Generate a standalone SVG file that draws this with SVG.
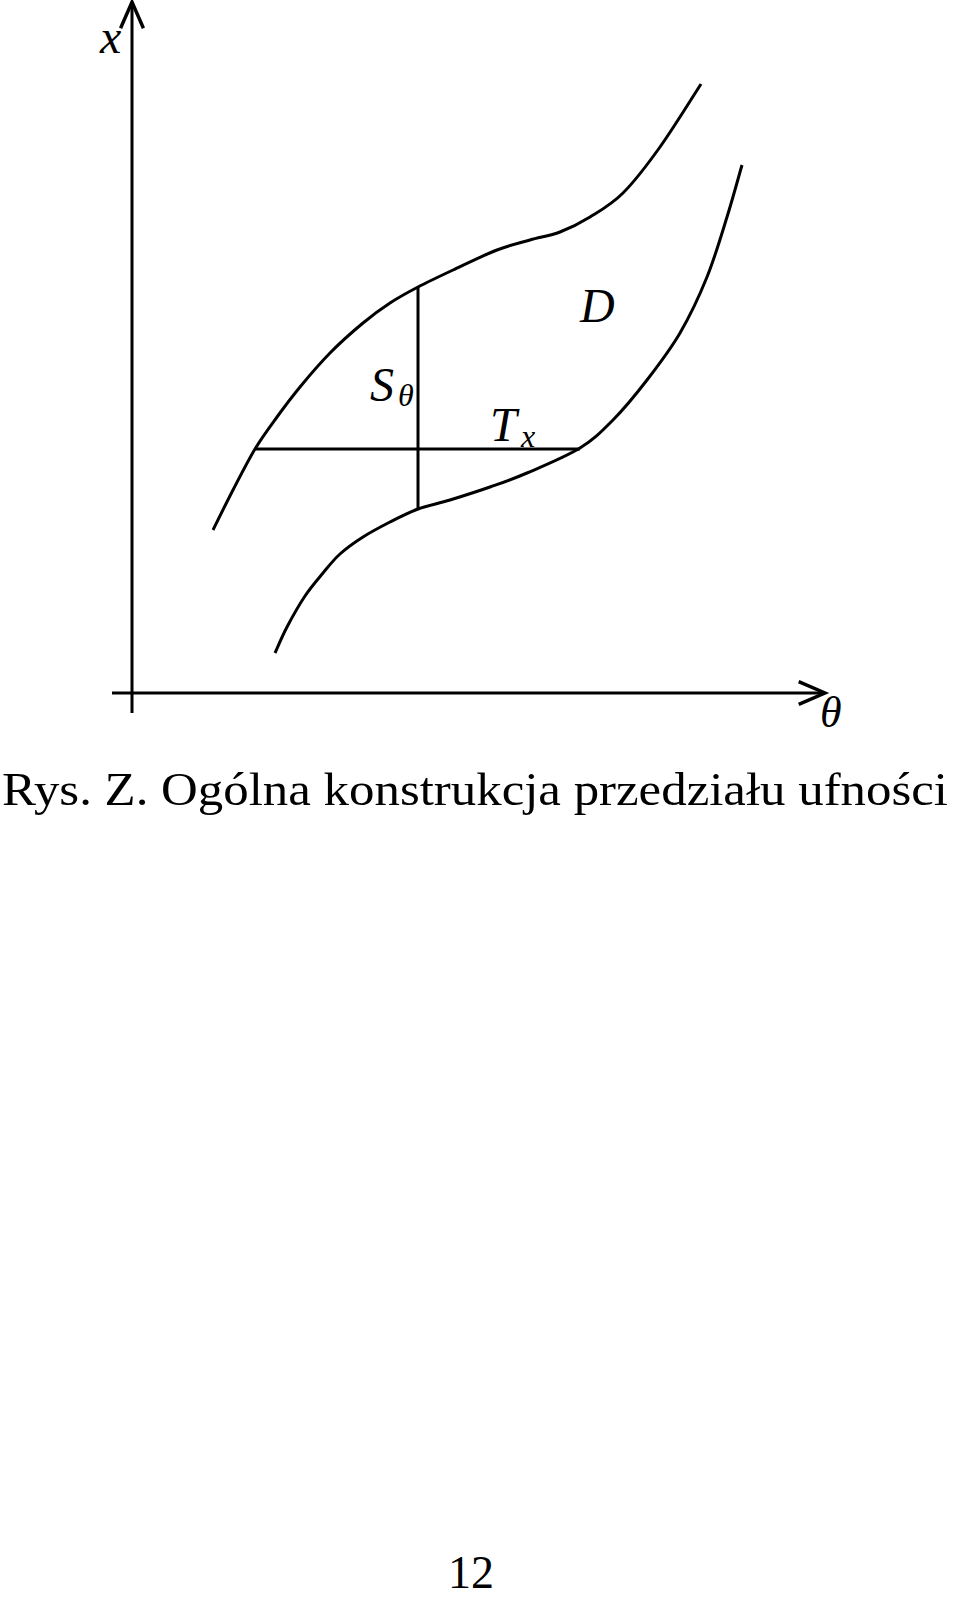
<svg xmlns="http://www.w3.org/2000/svg" width="960" height="1597" viewBox="0 0 960 1597">
<style>
.ln{fill:none;stroke:#000;stroke-width:3;stroke-linecap:butt;stroke-linejoin:round}
.m{font-family:"Liberation Serif","Times New Roman",serif;font-style:italic;fill:#000}
.t{font-family:"Liberation Serif","Times New Roman",serif;fill:#000}
</style>
<defs>
<marker id="arr" markerUnits="userSpaceOnUse" markerWidth="40" markerHeight="40" refX="0" refY="0" viewBox="-30 -15 35 30" orient="auto" overflow="visible">
<path d="M-23,-10 L0,0 L-23,10" fill="none" stroke="#000" stroke-width="3" stroke-linejoin="miter"/>
</marker>
</defs>
<rect width="960" height="1597" fill="#fff"/>
<g id="connectors">
<line id="axis-x" class="ln" x1="132" y1="713" x2="132" y2="2" marker-end="url(#arr)"/>
<line id="axis-theta" class="ln" x1="112" y1="693" x2="825" y2="693" marker-end="url(#arr)"/>
<path id="upper-curve" class="ln" d="M213,530 C216.3,523.3 226,503.5 233,490 C240,476.5 247.7,461.2 255,449 C262.3,436.8 269.5,427.3 277,417 C284.5,406.7 291.2,397.7 300,387 C308.8,376.3 319.5,363.7 330,353 C340.5,342.3 353,331.3 363,323 C373,314.7 380.8,309 390,303 C399.2,297 407.5,292.5 418,287 C428.5,281.5 439.8,276.2 453,270 C466.2,263.8 484.2,255 497,250 C509.8,245 519.5,243 530,240 C540.5,237 550,235.8 560,232 C570,228.2 579.5,223.5 590,217 C600.5,210.5 611.3,204.7 623,193 C634.7,181.3 647,165.2 660,147 C673,128.8 694.2,94.5 701,84"/>
<path id="lower-curve" class="ln" d="M275,653 C277,648.7 282,636.5 287,627 C292,617.5 299,605 305,596 C311,587 317.2,580 323,573 C328.8,566 333.3,560 340,554 C346.7,548 354.7,542.3 363,537 C371.3,531.7 380.8,526.7 390,522 C399.2,517.3 408,512.7 418,509 C428,505.3 438,503.7 450,500 C462,496.3 477.2,491.5 490,487 C502.8,482.5 512,479.5 527,473 C542,466.5 565.7,456.8 580,448 C594.3,439.2 601.8,431.3 613,420 C624.2,408.7 635.8,394.5 647,380 C658.2,365.5 670,350.2 680,333 C690,315.8 699.2,296.3 707,277 C714.8,257.7 721.2,235.7 727,217 C732.8,198.3 739.5,173.7 742,165"/>
<line id="T-x-line" class="ln" x1="255" y1="449" x2="580" y2="449"/>
<line id="S-theta-line" class="ln" x1="418" y1="287" x2="418" y2="509"/>
</g>
<g id="label-x"><text class="m" x="100" y="53" font-size="48">x</text></g>
<g id="label-theta"><text class="m" x="820" y="727" font-size="44">θ</text></g>
<g id="label-D"><text class="m" x="580" y="322" font-size="48">D</text></g>
<g id="label-S-theta"><text class="m" x="370" y="401" font-size="48">S</text><text class="m" x="398" y="406" font-size="32">θ</text></g>
<g id="label-T-x"><text class="m" x="490" y="441" font-size="48">T</text><text class="m" x="521" y="447" font-size="32">x</text></g>
<g id="caption"><text class="t" x="2" y="805" font-size="47" textLength="946" lengthAdjust="spacingAndGlyphs">Rys. Z. Ogólna konstrukcja przedziału ufności</text></g>
<g id="page-number"><text class="t" x="448" y="1588" font-size="46">12</text></g>
</svg>
